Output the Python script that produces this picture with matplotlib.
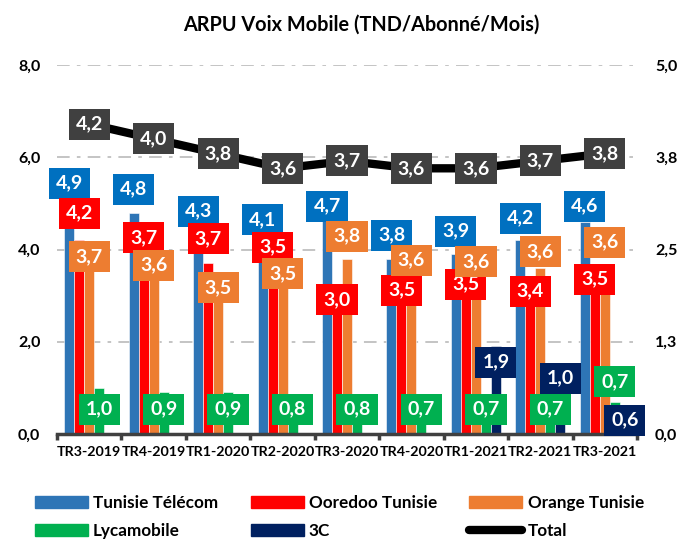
import numpy as np
import matplotlib
matplotlib.use("Agg")
import matplotlib.pyplot as plt
from matplotlib.patches import Patch
from matplotlib.lines import Line2D

plt.rcParams['font.family'] = ['Lato', 'DejaVu Sans']

# ---- data ----
categories = ["TR3-2019", "TR4-2019", "TR1-2020", "TR2-2020", "TR3-2020",
              "TR4-2020", "TR1-2021", "TR2-2021", "TR3-2021"]
tunisie_telecom = [4.9, 4.8, 4.3, 4.1, 4.7, 3.8, 3.9, 4.2, 4.6]
ooredoo = [4.2, 3.7, 3.7, 3.5, 3.0, 3.5, 3.5, 3.4, 3.5]
orange = [3.7, 3.6, 3.5, 3.5, 3.8, 3.6, 3.6, 3.6, 3.6]
lycamobile = [1.0, 0.9, 0.9, 0.8, 0.8, 0.7, 0.7, 0.7, 0.7]
trois_c = [np.nan, np.nan, np.nan, np.nan, np.nan, np.nan, 1.9, 1.0, 0.6]
total = [4.2, 4.0, 3.8, 3.6, 3.7, 3.6, 3.6, 3.7, 3.8]

left_ticks = [0, 2, 4, 6, 8]
left_ticklabels = ["0,0", "2,0", "4,0", "6,0", "8,0"]
right_ticks = [0, 1.25, 2.5, 3.75, 5.0]
right_ticklabels = ["0,0", "1,3", "2,5", "3,8", "5,0"]

# label placement (offset from bar top, left-axis units) - labels overlap like in Excel
off_tt = [0.54, 0.51, 0.53, 0.54, 0.24, 0.51, 0.50, 0.48, 0.34]
off_oo = [0.59, 0.55, 0.53, 0.55, -0.09, -0.38, -0.25, -0.30, -0.14]
off_or = [0.14, 0.06, -0.33, -0.03, 0.49, 0.17, 0.13, 0.35, 0.56]
off_ly = [-0.46, -0.36, -0.36, -0.26, -0.26, -0.16, -0.16, -0.16, 0.43]
off_3c = [0, 0, 0, 0, 0, 0, -0.34, 0.21, -0.30]

series = [
    ("Tunisie Télécom", tunisie_telecom, "#2E75B6", "#0070C0", off_tt),
    ("Ooredoo Tunisie", ooredoo, "#FF0000", "#FF0000", off_oo),
    ("Orange Tunisie", orange, "#ED7D31", "#ED7D31", off_or),
    ("Lycamobile", lycamobile, "#00B050", "#00B050", off_ly),
    ("3C", trois_c, "#002060", "#002060", off_3c),
]


def fmt(v):
    return f"{v:.1f}".replace(".", ",")


box = dict(boxstyle="square,pad=0.36", ec="none")

fig = plt.figure(figsize=(6.8, 5.41), dpi=100)
ax = fig.add_axes([57 / 680, 107 / 541, 580 / 680, 369 / 541])
ax2 = ax.twinx()

x = np.arange(len(categories))
w = 0.155

for k, (name, vals, col, lcol, offs) in enumerate(series):
    xs = x + (k - 2) * w
    ax.bar(xs, vals, width=w, color=col, edgecolor="white", linewidth=0.4, zorder=2)
    for xi, v, o in zip(xs, vals, offs):
        if np.isnan(v):
            continue
        ax.text(xi, v + o, fmt(v), ha="center", va="center", color="white",
                fontsize=14, fontweight="bold", zorder=4 + k,
                bbox=dict(box, fc=lcol))

ax2.plot(x, total, color="black", lw=6, solid_joinstyle="round", zorder=3)
for xi, v in zip(x, total):
    ax2.text(xi, v, fmt(v), ha="center", va="center", color="white",
             fontsize=14, fontweight="bold", zorder=5,
             bbox=dict(box, fc="#404040"))

ax.set_xlim(-0.5, len(categories) - 0.5)
ax.set_ylim(0, 8)
ax2.set_ylim(0, 5)

ax.set_yticks(left_ticks)
ax.set_yticklabels(left_ticklabels, fontsize=11.5, fontweight="bold")
ax2.set_yticks(right_ticks)
ax2.set_yticklabels(right_ticklabels, fontsize=11.5, fontweight="bold")
ax.tick_params(axis="y", length=0, pad=12)
ax2.tick_params(axis="y", length=0, pad=13)

ax.set_xticks(x)
ax.set_xticklabels(categories, fontsize=10.3, fontweight="bold")
ax.set_xticks(np.arange(len(categories) + 1) - 0.5, minor=True)
ax.tick_params(axis="x", which="major", length=0, pad=9)
ax.tick_params(axis="x", which="minor", length=4, width=2.5, color="#404040")

ax.yaxis.grid(True, color="#BFBFBF", lw=1.3, linestyle=(0, (7, 4, 2, 4)))
ax.set_axisbelow(True)

for a in (ax, ax2):
    for s in ("top", "left", "right", "bottom"):
        a.spines[s].set_visible(False)
ax.spines["bottom"].set_visible(True)
ax.spines["bottom"].set_color("#404040")
ax.spines["bottom"].set_linewidth(2.5)

fig.text(361 / 680, 1 - 25 / 541, "ARPU Voix Mobile (TND/Abonné/Mois)",
         ha="center", va="center", fontsize=14.3, fontweight="bold")

handles = [
    Patch(color=series[0][2]), Patch(color=series[3][2]),
    Patch(color=series[1][2]), Patch(color=series[4][2]),
    Patch(color=series[2][2]), Line2D([], [], color="black", lw=6, solid_capstyle="round"),
]
labels = [series[0][0], series[3][0], series[1][0], series[4][0], series[2][0], "Total"]
leg = fig.legend(handles, labels, loc="upper left", bbox_to_anchor=(35 / 680, 1 - 495 / 541),
                 ncol=3, frameon=False, borderpad=0, borderaxespad=0,
                 handlelength=3.1, handleheight=0.7, handletextpad=0.3,
                 columnspacing=1.9, labelspacing=0.7,
                 prop={"size": 12.3, "weight": "bold"})

fig.savefig("out.png", dpi=100)
